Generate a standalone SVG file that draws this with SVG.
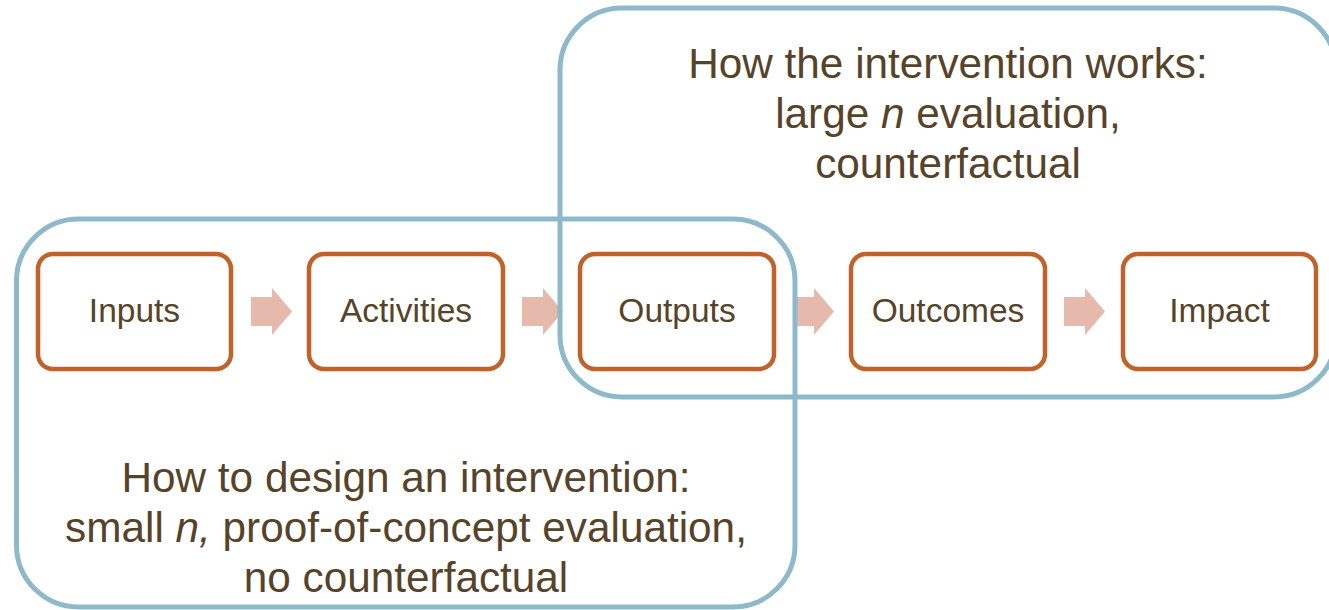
<svg xmlns="http://www.w3.org/2000/svg" width="1329" height="610" viewBox="0 0 1329 610">
  <style>
    .step rect { fill: #FFFFFF; stroke: #C0622B; stroke-width: 4.5; }
    .step text, .frame text { font-family: "Liberation Sans", Arial, sans-serif; fill: #574329; text-anchor: middle; }
    .step text { font-size: 33.5px; }
    .frame text { font-size: 42.3px; }
    .frame rect { fill: none; stroke: #8DB9CA; stroke-width: 5; }
    .flow { fill: #E6B9AD; }
  </style>
  <defs>
    <path id="flowArrow" d="M0,-14.5 H21 V-23.5 L41,0 L21,23.5 V14.5 H0 Z"/>
  </defs>

  <!-- chain of steps -->
  <g id="inputs" class="step">
    <rect x="38" y="254" width="193" height="115" rx="15"/>
    <text x="134.5" y="322">Inputs</text>
  </g>
  <g id="activities" class="step">
    <rect x="309" y="254" width="194" height="115" rx="15"/>
    <text x="406" y="322">Activities</text>
  </g>
  <g id="outputs" class="step">
    <rect x="580" y="254" width="194" height="115" rx="15"/>
    <text x="677" y="322">Outputs</text>
  </g>
  <g id="outcomes" class="step">
    <rect x="851" y="254" width="194" height="115" rx="15"/>
    <text x="948" y="322">Outcomes</text>
  </g>
  <g id="impact" class="step">
    <rect x="1123" y="254" width="193" height="115" rx="15"/>
    <text x="1219.5" y="322">Impact</text>
  </g>

  <!-- block arrows between steps -->
  <g id="connectors" class="flow">
    <use href="#flowArrow" x="251" y="311.5"/>
    <use href="#flowArrow" x="522" y="311.5"/>
    <use href="#flowArrow" x="793" y="311.5"/>
    <use href="#flowArrow" x="1064" y="311.5"/>
  </g>

  <!-- evaluation scopes -->
  <g id="scope-design" class="frame">
    <rect x="16.5" y="219" width="778.5" height="388" rx="62"/>
    <text x="406" y="492">How to design an intervention:</text>
    <text x="406" y="542">small <tspan font-style="italic">n,</tspan> proof-of-concept evaluation,</text>
    <text x="406" y="592">no counterfactual</text>
  </g>
  <g id="scope-works" class="frame">
    <rect x="560" y="8" width="776" height="389" rx="62"/>
    <text x="948" y="78">How the intervention works:</text>
    <text x="948" y="128">large <tspan font-style="italic">n</tspan> evaluation,</text>
    <text x="948" y="178">counterfactual</text>
  </g>
</svg>
